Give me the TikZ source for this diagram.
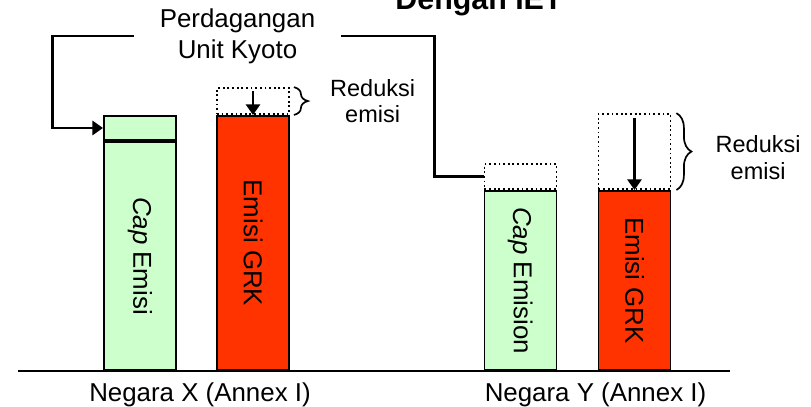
\documentclass[tikz,border=0pt]{standalone}
\usepackage{fontspec}
\setmainfont{Liberation Sans}
\usepackage{tikz}
\usetikzlibrary{shapes,arrows,arrows.meta,positioning,decorations.pathreplacing}
\definecolor{capgreen}{RGB}{204,255,204}
\definecolor{grkred}{RGB}{255,51,0}
\tikzset{%
	capbar/.style   = {draw, line width=1.4pt, fill=capgreen, minimum width=1.8cm,
		anchor=south, inner sep=0pt}, % Cap emisi
	grkbar/.style   = {draw, line width=1.4pt, fill=grkred, minimum width=1.8cm,
		anchor=south, inner sep=0pt}, % Emisi GRK
	dotbox/.style   = {draw, dotted, line width=1.3pt, fill=white, minimum width=1.8cm,
		anchor=south, inner sep=0pt}, % Reduksi
	bartext/.style  = {rotate=-90, font=\fontsize{18.4}{22}\selectfont},
	country/.style  = {anchor=base, font=\fontsize{18.4}{22}\selectfont},
	heading/.style  = {anchor=base, font=\fontsize{21.6}{26}\selectfont\bfseries},
	note/.style     = {align=center, inner sep=0pt, anchor=west,
		font=\fontsize{16.7}{18.6}\selectfont},
	link/.style     = {line width=2pt},
	cut/.style      = {line width=1.7pt, -{Triangle[length=7.5pt,width=10pt]}},
	curly/.style    = {decorate, line width=1.2pt}
}

\begin{document}
\begin{tikzpicture}[x=0.025cm, y=-0.025cm]
			\useasboundingbox (0,0) rectangle (811,407);
			\coordinate (groundL) at (18,371);
			\coordinate (groundR) at (730,371);

			\node[heading] (title) at (479,9.5) {Dengan IET} ;
			\node[align=center, font=\fontsize{18.4}{22}\selectfont, inner xsep=0.65cm] (trade) at (237.5,36) {Perdagangan\\Unit Kyoto} ;

			% Negara X
			\node[capbar, minimum height=5.7cm] (capX) at (140,371) {} ;
			\node[capbar, minimum height=0.6cm] (capXtop) at (capX.north) {} ;
			\node[grkbar, minimum height=6.35cm] (grkX) at (253,371) {} ;
			\node[dotbox, minimum height=0.65cm] (grkXtop) at (grkX.north) {} ;
			\node[bartext] (capXtext) at (capX.center) {\textit{Cap} Emisi} ;
			\node[bartext] (grkXtext) at (grkX.center) {Emisi GRK} ;

			% Negara Y
			\node[capbar, minimum height=4.475cm] (capY) at (520.5,371) {} ;
			\node[dotbox, minimum height=0.625cm] (capYtop) at (capY.north) {} ;
			\node[grkbar, minimum height=4.475cm] (grkY) at (634.5,371) {} ;
			\node[dotbox, minimum height=1.875cm] (grkYtop) at (grkY.north) {} ;
			\node[bartext] (capYtext) at (capY.center) {\textit{Cap} Emision} ;
			\node[bartext] (grkYtext) at (grkY.center) {Emisi GRK} ;

			\draw[cut] ([yshift=-0.1cm]grkXtop.north) -- (grkX.north);
			\draw[cut] ([yshift=-0.125cm]grkYtop.north) -- (grkY.north);
			\draw[curly, decoration={brace, amplitude=0.35cm}] ([xshift=0.1cm]grkXtop.north east) -- ([xshift=0.1cm]grkXtop.south east);
			\draw[curly, decoration={brace, amplitude=0.375cm}] ([xshift=0.125cm]grkYtop.north east) -- ([xshift=0.125cm]grkYtop.south east);
			\node[note] (noteX) at ([xshift=1.0cm]grkXtop.east) {Reduksi\\emisi} ;
			\node[note] (noteY) at ([xshift=1.1cm,yshift=-0.15cm]grkYtop.east) {Reduksi\\emisi} ;

			\draw[link, -{Triangle[length=7.5pt,width=10pt]}] (trade.west) -- ++(-81,0) |- (capXtop.west);
			\draw[link] (trade.east) -- ++(93,0) |- (capYtop.west);

			\draw[line width=1.6pt] (groundL) -- (groundR);
			\node[country] (negX) at (200,401) {Negara X (Annex I)} ;
			\node[country] (negY) at (595.5,401) {Negara Y (Annex I)} ;
		\end{tikzpicture}
\end{document}
